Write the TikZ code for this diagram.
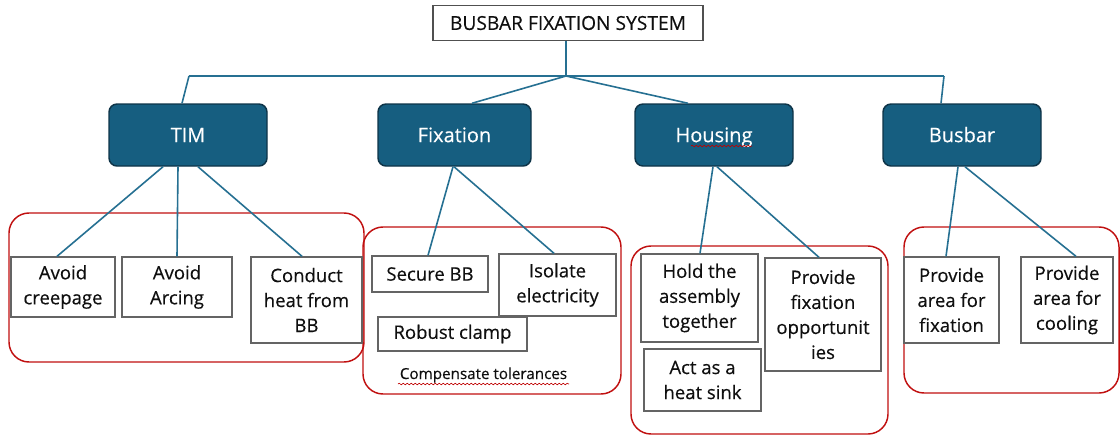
\documentclass[tikz,border=0pt]{standalone}
\usepackage{fontspec}
\setmainfont{Open Sans}[FakeBold=0.35]
\usetikzlibrary{decorations.pathmorphing}
\definecolor{hdrfill}{RGB}{22,94,128}
\definecolor{hdrline}{RGB}{14,52,72}
\definecolor{linkcol}{RGB}{38,112,146}
\definecolor{grpcol}{RGB}{192,16,16}
\definecolor{boxcol}{RGB}{100,100,100}
\definecolor{txtcol}{RGB}{15,15,15}

\begin{document}
\begin{tikzpicture}[x=0.75pt,y=-0.75pt,
  sz/.style 2 args={minimum width=#1*0.75pt, minimum height=#2*0.75pt},
  titlebox/.style={draw=boxcol!80!black, line width=0.9pt, fill=white, inner sep=0pt,
    text=txtcol, text height=10.3pt, text depth=0pt, font=\fontsize{14.4}{16}\selectfont},
  header/.style={draw=hdrline, line width=1.1pt, fill=hdrfill, rounded corners=6pt,
    text=white, inner sep=0pt, text height=10.7pt, text depth=0pt,
    font=\fontsize{15}{18}\selectfont},
  group/.style={draw=grpcol, line width=1.1pt, rounded corners=15pt, inner sep=0pt},
  item/.style={draw=boxcol, line width=1pt, fill=white, inner sep=0pt, align=center,
    text=txtcol, font=\fontsize{13.9}{18.75}\selectfont},
  link/.style={draw=linkcol, line width=1.2pt},
  squiggle/.style={draw=red!75!black, line width=0.45pt, decorate,
    decoration={snake, amplitude=0.6pt, segment length=3pt}}
]
\useasboundingbox (0,0) rectangle (1120,437);

% red grouping frames
\node[group, sz={355}{149}] (g1) at (186.5,287.5) {};
\node[group, sz={258}{167}] (g2) at (492,310.5) {};
\node[group, sz={257}{188}] (g3) at (759.5,340) {};
\node[group, sz={215}{166}] (g4) at (1011.5,310) {};

% root and category boxes
\node[titlebox, sz={270}{35}] (title) at (568,23) {BUSBAR FIXATION SYSTEM};
\node[header, sz={158}{62}] (tim) at (188,135) {TIM};
\node[header, sz={153}{62}] (fixation) at (454.5,135) {Fixation};
\node[header, sz={158}{62}] (housing) at (714,135) {Housing};
\node[header, sz={158}{62}] (busbar) at (962,135) {Busbar};

% requirement boxes
\node[item, sz={104}{60}] (creep) at (63,287) {Avoid\\creepage};
\node[item, sz={110}{60}] (arcing) at (177,287) {Avoid\\Arcing};
\node[item, sz={111}{86}] (conduct) at (306.5,300) {Conduct\\heat from\\BB};
\node[item, sz={116}{36}] (secure) at (430,274) {Secure BB};
\node[item, sz={117}{62}] (isolate) at (557.5,285) {Isolate\\electricity};
\node[item, sz={149}{34}] (robust) at (452.5,334) {Robust clamp};
\node[item, sz={117}{88}] (hold) at (699.5,298) {Hold the\\assembly\\together};
\node[item, sz={117}{62}] (heatsink) at (702.5,380) {Act as a\\heat sink};
\node[item, sz={116}{113}] (provide) at (823,314.5) {Provide\\fixation\\opportunit\\ies};
\node[item, sz={95}{86}] (areafix) at (951.5,300) {Provide\\area for\\fixation};
\node[item, sz={92}{86}] (areacool) at (1067,300) {Provide\\area for\\cooling};

\node[anchor=base, inner sep=0pt, text=txtcol, font=\fontsize{11.4}{13}\selectfont]
  (comp) at (483.5,379) {Compensate tolerances};

% spell-check squiggles
\draw[squiggle] (691,146) -- (752,146);
\draw[squiggle] (398,384) -- (569,384);

% top-level connectors
\coordinate (jn) at (566,76);
\coordinate (railL) at (189,76);
\coordinate (railR) at (944,76);
\draw[link] (title.south -| jn) -- (jn);
\draw[link] (railL) -- (railR);
\draw[link] (railL) -- (tim.north -| 182,0);
\draw[link] (railR) -- (busbar.north -| 941,0);
\draw[link] (jn) -- (fixation.north -| 472,0);
\draw[link] (jn) -- (housing.north -| 688,0);

% category to requirement connectors
\draw[link] (tim.south -| 163,0) -- (creep.north -| 57,0);
\draw[link] (tim.south -| 178,0) -- (arcing.north -| 177,0);
\draw[link] (tim.south -| 198,0) -- (conduct.north -| 302,0);
\draw[link] (fixation.south -| 453,0) -- (secure.north -| 428,0);
\draw[link] (fixation.south -| 454,0) -- (isolate.north -| 554,0);
\draw[link] (housing.south -| 713,0) -- (hold.north -| 700,0);
\draw[link] (housing.south -| 717,0) -- (provide.north -| 819,0);
\draw[link] (busbar.south -| 958,0) -- (areafix.north -| 946,0);
\draw[link] (busbar.south -| 965,0) -- (areacool.north -| 1076,0);
\end{tikzpicture}
\end{document}
